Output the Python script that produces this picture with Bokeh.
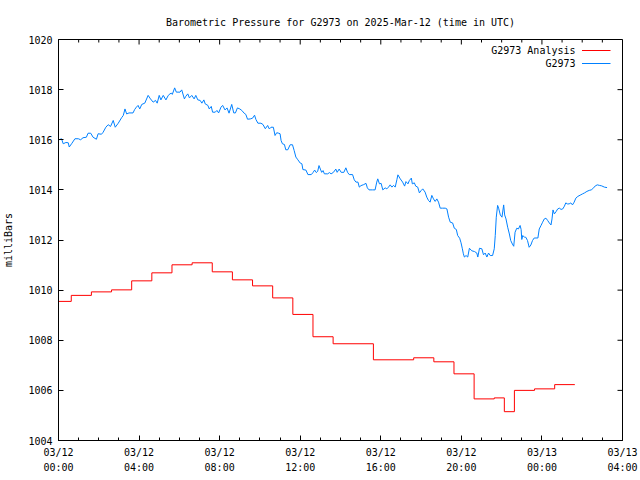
import math
from bokeh.plotting import figure
from bokeh.models import Range1d, FixedTicker, Label, BoxAnnotation
from bokeh.embed import file_html
from bokeh.resources import INLINE

FONT = "DejaVu Sans Mono"
TITLE = "Barometric Pressure for G2973 on 2025-Mar-12 (time in UTC)"
Y_LABEL = "milliBars"

x_tick_hours = [0, 4, 8, 12, 16, 20, 24, 28]
x_tick_labels = ["03/12\n00:00", "03/12\n04:00", "03/12\n08:00", "03/12\n12:00",
                 "03/12\n16:00", "03/12\n20:00", "03/13\n00:00", "03/13\n04:00"]
x_minor_hours = list(range(0, 29))
y_ticks = [1004, 1006, 1008, 1010, 1012, 1014, 1016, 1018, 1020]

series_names = ["G2973 Analysis", "G2973"]

# Analysis (step series): minutes after 2025-03-12 00:00 UTC, millibars
analysis_min = [0, 38, 98, 158, 218, 278, 338, 398, 458, 518, 578, 638, 698, 758, 818,
                938, 1058, 1118, 1178, 1238, 1298, 1328, 1358, 1418, 1478, 1538]
analysis_mb = [1009.55, 1009.79, 1009.93, 1010.01, 1010.37, 1010.69, 1011.01, 1011.09,
               1010.73, 1010.41, 1010.17, 1009.69, 1009.03, 1008.14, 1007.86,
               1007.22, 1007.30, 1007.14, 1006.66, 1005.66, 1005.70, 1005.15,
               1006.00, 1006.06, 1006.23, 1006.23]

# Observations: minutes after 2025-03-12 00:00 UTC, millibars
obs_min = [0, 2, 9, 14, 22, 29, 32, 39, 49, 59, 66, 73, 83, 88, 96, 103, 113, 118, 128, 133,
           141, 148, 155, 163, 169, 178, 188, 193, 198, 203, 210, 222, 227, 232, 237, 242,
           248, 257, 267, 274, 282, 289, 294, 300, 305, 312, 320, 327, 332, 336, 339, 346,
           351, 362, 367, 375, 379, 385, 390, 397, 404, 409, 415, 422, 427, 433, 437, 445,
           449, 455, 459, 467, 472, 477, 484, 489, 496, 502, 508, 516, 522, 527, 533, 540,
           546, 553, 558, 563, 571, 578, 584, 588, 594, 603, 609, 616, 623, 628, 633, 640,
           645, 650, 656, 660, 663, 667, 673, 677, 683, 690, 697, 702, 707, 713, 720, 725,
           728, 737, 743, 753, 758, 763, 768, 772, 776, 780, 784, 788, 792, 802, 807, 812,
           819, 826, 830, 836, 842, 850, 856, 861, 866, 876, 881, 886, 892, 896, 901, 909,
           916, 920, 925, 935, 943, 948, 951, 956, 961, 966, 973, 978, 983, 988, 993, 998,
           1003, 1008, 1011, 1018, 1025, 1031, 1035, 1041, 1045, 1051, 1054, 1060, 1064,
           1070, 1075, 1080, 1085, 1092, 1097, 1102, 1107, 1112, 1117, 1122, 1127, 1132,
           1137, 1144, 1152, 1157, 1162, 1167, 1174, 1179, 1185, 1189, 1195, 1199, 1203,
           1206, 1209, 1214, 1219, 1224, 1231, 1239, 1246, 1249, 1254, 1261, 1266, 1271,
           1276, 1281, 1286, 1293, 1298, 1301, 1304, 1308, 1311, 1316, 1321, 1326, 1329,
           1333, 1338, 1343, 1347, 1352, 1356, 1360, 1365, 1370, 1375, 1378, 1380, 1383,
           1388, 1392, 1397, 1402, 1407, 1412, 1417, 1428, 1432, 1437, 1442, 1447, 1452,
           1457, 1462, 1467, 1470, 1473, 1477, 1482, 1487, 1492, 1497, 1502, 1507, 1511,
           1516, 1521, 1526, 1531, 1536, 1541, 1547, 1554, 1561, 1567, 1574, 1581, 1587,
           1594, 1599, 1605, 1611, 1618, 1626, 1634]
obs_mb = [1016.04, 1016.00, 1016.04, 1015.84, 1015.89, 1015.88, 1015.71, 1015.84, 1016.04,
          1016.04, 1016.00, 1016.08, 1016.10, 1016.26, 1016.26, 1016.10, 1016.02, 1016.24,
          1016.22, 1016.30, 1016.50, 1016.60, 1016.53, 1016.77, 1016.50, 1016.66, 1016.88,
          1016.97, 1017.23, 1017.03, 1017.07, 1017.07, 1017.21, 1017.30, 1017.37, 1017.23,
          1017.41, 1017.46, 1017.77, 1017.63, 1017.50, 1017.57, 1017.46, 1017.77, 1017.59,
          1017.77, 1017.59, 1017.77, 1017.83, 1017.86, 1017.81, 1018.07, 1017.90, 1017.90,
          1017.99, 1017.63, 1017.73, 1017.83, 1017.67, 1017.77, 1017.63, 1017.77, 1017.59,
          1017.57, 1017.46, 1017.59, 1017.43, 1017.37, 1017.23, 1017.33, 1017.10, 1017.10,
          1017.17, 1017.07, 1017.30, 1017.37, 1017.19, 1017.27, 1017.06, 1017.41, 1017.07,
          1017.07, 1017.27, 1017.23, 1017.17, 1017.06, 1017.01, 1016.82, 1016.83, 1016.86,
          1016.98, 1016.81, 1016.66, 1016.66, 1016.61, 1016.44, 1016.57, 1016.43, 1016.50,
          1016.50, 1016.17, 1016.28, 1016.26, 1016.24, 1015.97, 1015.84, 1015.81, 1015.60,
          1015.60, 1015.80, 1015.80, 1015.57, 1015.31, 1015.20, 1015.07, 1015.04, 1014.81,
          1014.79, 1014.61, 1014.61, 1014.69, 1014.79, 1014.69, 1014.74, 1014.97, 1014.83,
          1014.70, 1014.77, 1014.64, 1014.64, 1014.69, 1014.64, 1014.70, 1014.83, 1014.70,
          1014.83, 1014.70, 1014.70, 1014.88, 1014.70, 1014.61, 1014.61, 1014.40, 1014.31,
          1014.31, 1014.11, 1014.17, 1014.21, 1014.26, 1014.08, 1014.00, 1014.00, 1014.00,
          1014.31, 1014.44, 1014.24, 1014.26, 1014.00, 1014.08, 1014.04, 1014.11, 1014.20,
          1014.11, 1014.18, 1014.11, 1014.41, 1014.60, 1014.44, 1014.31, 1014.15, 1014.33,
          1014.24, 1014.37, 1014.47, 1014.24, 1014.28, 1014.15, 1014.11, 1013.88, 1013.97,
          1014.04, 1013.91, 1013.71, 1013.58, 1013.51, 1013.78, 1013.64, 1013.54, 1013.64,
          1013.51, 1013.27, 1013.27, 1013.27, 1013.24, 1012.91, 1012.71, 1012.68, 1012.47,
          1012.42, 1012.18, 1012.07, 1011.89, 1011.65, 1011.45, 1011.32, 1011.38, 1011.32,
          1011.67, 1011.57, 1011.54, 1011.48, 1011.32, 1011.67, 1011.65, 1011.41, 1011.48,
          1011.32, 1011.48, 1011.38, 1011.38, 1011.65, 1012.18, 1012.91, 1013.38, 1013.27,
          1013.00, 1012.91, 1013.40, 1013.00, 1012.84, 1012.51, 1012.24, 1011.98, 1011.84,
          1011.75, 1012.31, 1012.47, 1012.44, 1012.58, 1012.42, 1012.02, 1012.18, 1012.11,
          1012.11, 1011.98, 1011.71, 1011.80, 1011.98, 1012.08, 1012.08, 1012.44, 1012.57,
          1012.71, 1012.84, 1012.87, 1012.78, 1012.68, 1012.60, 1012.84, 1013.20, 1013.04,
          1013.13, 1013.24, 1013.27, 1013.22, 1013.24, 1013.35, 1013.48, 1013.44, 1013.44,
          1013.48, 1013.40, 1013.51, 1013.67, 1013.74, 1013.79, 1013.84, 1013.88, 1013.94,
          1013.98, 1014.00, 1014.08, 1014.16, 1014.20, 1014.18, 1014.16, 1014.11, 1014.09]

RED = "#ff0000"
BLUE = "#0080ff"

ax_h = [m / 60.0 for m in analysis_min]
ox_h = [m / 60.0 for m in obs_min]

X0, X1 = 0, 28
Y0, Y1 = 1004, 1020

p = figure(width=640, height=480, output_backend="svg", toolbar_location=None,
           x_range=Range1d(X0, X1), y_range=Range1d(Y0, Y1),
           min_border_left=58, min_border_right=18, min_border_top=39, min_border_bottom=40)
p.background_fill_color = "white"
p.border_fill_color = "white"
p.outline_line_color = "black"
p.outline_line_width = 1
p.xgrid.visible = False
p.ygrid.visible = False

p.title.text = TITLE
p.title.align = "center"
p.title.text_font = FONT
p.title.text_font_size = "10px"
p.title.text_font_style = "normal"
p.title.text_color = "black"
p.title.standoff = 24


def style(axis):
    axis.axis_line_color = "black"
    axis.major_tick_line_color = "black"
    axis.minor_tick_line_color = "black"
    axis.major_tick_in = 5
    axis.major_tick_out = 0
    axis.minor_tick_in = 3
    axis.minor_tick_out = 0
    axis.major_label_text_font = FONT
    axis.major_label_text_font_size = "10px"
    axis.major_label_text_color = "black"
    axis.major_label_standoff = 6


xa = p.xaxis[0]
xa.ticker = FixedTicker(ticks=x_tick_hours, minor_ticks=x_minor_hours)
xa.major_label_overrides = {h: lab for h, lab in zip(x_tick_hours, x_tick_labels)}
style(xa)
xa.major_label_text_line_height = 1.4

ya = p.yaxis[0]
ya.ticker = FixedTicker(ticks=y_ticks, minor_ticks=[])
style(ya)
ya.axis_label = Y_LABEL
ya.axis_label_text_font = FONT
ya.axis_label_text_font_size = "10px"
ya.axis_label_text_font_style = "normal"
ya.axis_label_text_color = "black"
ya.axis_label_standoff = 11

# mirrored ticks on the top and right frame edges
minor_only = [h for h in x_minor_hours if h not in x_tick_hours]
p.ray(x=x_tick_hours, y=[Y1] * len(x_tick_hours), length=5, length_units="screen",
      angle=-math.pi / 2, line_color="black", line_width=1)
p.ray(x=minor_only, y=[Y1] * len(minor_only), length=3, length_units="screen",
      angle=-math.pi / 2, line_color="black", line_width=1)
p.ray(x=[X1] * len(y_ticks), y=y_ticks, length=5, length_units="screen",
      angle=math.pi, line_color="black", line_width=1)

p.step(ax_h, analysis_mb, mode="after", line_color=RED, line_width=1)
p.line(ox_h, obs_mb, line_color=BLUE, line_width=1)

# key: text then sample line, top right
for i, (name, col) in enumerate(zip(series_names, [RED, BLUE])):
    yy = 390 - 13 * i
    p.add_layout(Label(x=517, y=yy, x_units="screen", y_units="screen", text=name,
                       text_align="right", text_baseline="middle", text_font=FONT,
                       text_font_size="10px", text_color="black"))
    p.add_layout(BoxAnnotation(left=523.5, right=552, bottom=yy - 0.5, top=yy + 0.5,
                               left_units="screen", right_units="screen",
                               top_units="screen", bottom_units="screen",
                               fill_color=col, fill_alpha=1.0, line_alpha=0))

open("out.html", "w").write(file_html(p, INLINE))
